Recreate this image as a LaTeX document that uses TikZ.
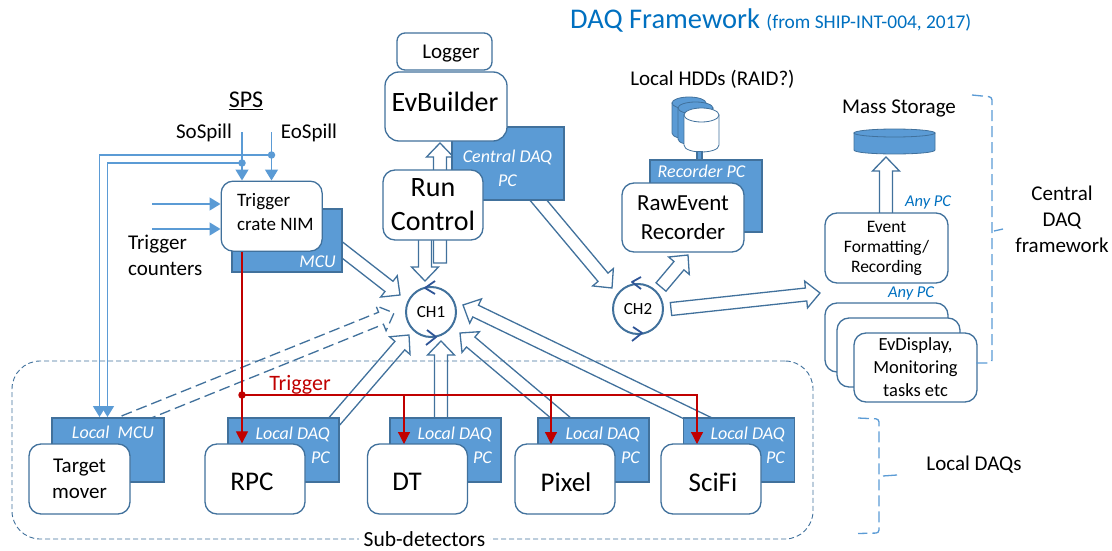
\documentclass[tikz,border=0pt]{standalone}
\usepackage{fontspec}
\setmainfont{Carlito}
\usetikzlibrary{calc,arrows.meta,backgrounds}
\definecolor{edgeblue}{HTML}{41719C}
\definecolor{fillblue}{HTML}{5B9BD5}
\definecolor{titleblue}{HTML}{0070C0}
\definecolor{chevblue}{HTML}{2F5597}
\definecolor{trigred}{HTML}{C00000}
\newcommand{\fs}[2]{\fontsize{#1}{#2}\selectfont}
\newcommand{\flowarrow}[3][]{%
  \coordinate (ta) at #2;
  \coordinate (tb) at #3;
  \draw[flowedge,#1] ($(ta)!6.5pt!90:(tb)$) -- ($(tb)!14pt!(ta)!6.5pt!90:(tb)$) -- ($(tb)!14pt!(ta)!13.5pt!90:(tb)$) -- (tb)
    -- ($(tb)!14pt!(ta)!13.5pt!-90:(tb)$) -- ($(tb)!14pt!(ta)!6.5pt!-90:(tb)$) -- ($(ta)!6.5pt!-90:(tb)$) -- cycle;
}
\newcommand{\drum}[6]{%
  \draw[#1] (#2,#4) -- (#2,#5) .. controls (#2,#5+#6*1.33) and (#3,#5+#6*1.33) .. (#3,#5) -- (#3,#4) -- cycle;
  \draw[#1] ({(#2+#3)/2},#4) ellipse[x radius={(#3-#2)/2*1pt},y radius=#6*1pt];
}
\tikzset{
  pcbox/.style={draw=edgeblue, line width=1.3pt, fill=fillblue, inner sep=0pt},
  roundbox/.style={draw=edgeblue, line width=1.3pt, fill=white, rounded corners=12pt, inner sep=0pt, align=center},
  detbox/.style={roundbox, minimum width=100pt, minimum height=70pt, font=\fs{27}{30}},
  pctext/.style={text=white, inner sep=0pt, align=center, font=\fs{18}{24}\itshape},
  anypc/.style={text=titleblue, inner sep=0pt, font=\fs{16.5}{18}\itshape},
  plain/.style={inner sep=0pt, align=center, font=\fs{21}{26}},
  flowedge/.style={draw=edgeblue, line width=1.3pt, fill=white, line join=miter},
  chevron/.style={draw=chevblue, line width=1.8pt, line join=round},
  sigline/.style={draw=fillblue, line width=1.5pt, -{Triangle[length=11pt,width=13pt]}},
  redline/.style={draw=trigred, line width=1.2pt},
  redarrow/.style={redline, -{Triangle[length=12pt,width=12pt]}},
  dot/.style={circle, fill=#1, inner sep=0pt, minimum size=7.5pt},
  ring/.style={circle, draw=edgeblue, line width=2pt, fill=white, minimum size=50pt, inner sep=0pt, font=\fs{17}{20}},
  bracket/.style={draw=fillblue, line width=1.3pt, rounded corners=3pt, dash pattern=on 11pt off 5pt},
  drumblue/.style={draw=edgeblue, line width=0.8pt, fill=fillblue},
  drumwhite/.style={draw=edgeblue, line width=0.8pt, fill=white},
}
\begin{document}
\begin{tikzpicture}[x=1pt,y=-1pt]
  \useasboundingbox (0,0) rectangle (1112,551);
  \node[anchor=west, inner sep=0pt, text=titleblue] (title) at (570,20) {\fs{28.5}{30}DAQ Framework \fs{19.4}{30}(from SHIP-INT-004, 2017)};

  \node[draw=edgeblue, line width=0.9pt, dash pattern=on 5pt off 3pt, rounded corners=28pt, minimum width=801pt, minimum height=178pt] (subdet) at (412.5,450) {};
  \node[plain, fill=white, inner xsep=5pt, font=\fs{21.5}{26}] (subdettext) at (424.5,539.5) {Sub-detectors};

  \node[pcbox, minimum width=110pt, minimum height=63pt] (mcu)      at (287,240.5) {};
  \node[roundbox, anchor=north west, minimum width=101pt, minimum height=70pt] (trigger) at (220.5,180.5) {};
  \node[anchor=west, inner sep=0pt, align=left, font=\fs{19}{24}] (triggertext) at (237,212) {Trigger\\crate NIM};
  \node[pctext, anchor=east] (mcutext) at (336,262) {MCU};

  \node[pcbox, minimum width=112pt, minimum height=73pt] (centralpc) at (508,163.5) {};
  \node[pctext] (centraltext) at (507.5,168) {Central DAQ\\PC};
  \node[roundbox, minimum width=95pt, minimum height=37pt, rounded corners=8pt] (logger) at (444.5,51.5) {};
  \node[plain] (loggertext) at (451,54) {Logger};
  \node[roundbox, minimum width=122pt, minimum height=69pt, rounded corners=14pt, font=\fs{28}{34}] (evbuilder) at (446,106.5) {};
  \node[inner sep=0pt, font=\fs{28}{34}] (evbuildertext) at (445,102) {EvBuilder};
  \node[roundbox, minimum width=100pt, minimum height=70pt, font=\fs{28}{34}] (runcontrol) at (433,205) {Run\\Control};

  \node[ring] (ch1) at (431,312) {CH1};
  \node[ring] (ch2) at (638,309) {CH2};

  \drum{drumblue}{672}{706}{103}{133}{6}
  \drum{drumblue}{678}{713}{108}{139}{6}
  \drum{drumwhite}{684}{719}{115}{145}{7}
  \node[pcbox, minimum width=5pt, minimum height=9pt] (hddlink) at (699.5,156) {};
  \node[pcbox, minimum width=112pt, minimum height=72pt] (recorderpc) at (706,196) {};
  \node[pctext] (recordertext) at (701.5,171) {Recorder PC};
  \node[roundbox, minimum width=122pt, minimum height=69pt, font=\fs{23}{29}] (recorder) at (683,217.5) {RawEvent\\Recorder};
  \node[plain] (hddtext) at (712.5,79) {Local HDDs (RAID?)};

  \node[plain] (storagetext) at (899,108.5) {Mass Storage};
  \drum{drumblue}{854}{935}{133}{150}{4}
  \node[roundbox, minimum width=123pt, minimum height=70pt, font=\fs{17.5}{20}] (event) at (886.5,248) {Event\\Formatting/\\Recording};
  \node[roundbox, minimum width=123pt, minimum height=69pt] (taska) at (886.5,337.5) {};
  \node[roundbox, minimum width=123pt, minimum height=69pt] (taskb) at (898.5,352.5) {};
  \node[roundbox, minimum width=123pt, minimum height=69pt, font=\fs{18.5}{23}] (taskc) at (915.5,367.5) {EvDisplay,\\Monitoring\\tasks etc};
  \node[anypc] (anypca) at (928,202) {Any PC};
  \node[anypc] (anypcb) at (911,293) {Any PC};

  \node[pcbox, minimum width=112pt, minimum height=64pt] (moverpc) at (108,450) {};
  \node[roundbox, minimum width=101pt, minimum height=70pt, font=\fs{21}{26}] (mover) at (79.5,479) {Target\\mover};
  \node[pctext] (movertext) at (113,432) {Local\ \ MCU};

  \node[pcbox, minimum width=111pt, minimum height=64pt] (rpcpc) at (283.5,450) {};
  \node[detbox] (rpc) at (255,479) {};
  \node[inner sep=0pt, font=\fs{27}{30}] (rpctext) at (252,482) {RPC};
  \node[pctext, align=right, anchor=east] (rpcpctext) at (330,445) {Local DAQ\\PC};

  \node[pcbox, minimum width=111pt, minimum height=64pt] (dtpc) at (445.5,450) {};
  \node[detbox] (dt) at (417.5,479) {};
  \node[inner sep=0pt, font=\fs{27}{30}] (dttext) at (407,482) {DT};
  \node[pctext, align=right, anchor=east] (dtpctext) at (492,445) {Local DAQ\\PC};

  \node[pcbox, minimum width=111pt, minimum height=64pt] (pixelpc) at (593.5,450) {};
  \node[detbox] (pixel) at (565,479) {};
  \node[inner sep=0pt, font=\fs{27}{30}] (pixeltext) at (566,482) {Pixel};
  \node[pctext, align=right, anchor=east] (pixelpctext) at (640,445) {Local DAQ\\PC};

  \node[pcbox, minimum width=111pt, minimum height=64pt] (scifipc) at (739,450) {};
  \node[detbox] (scifi) at (711,479) {};
  \node[inner sep=0pt, font=\fs{27}{30}] (scifitext) at (713,482) {SciFi};
  \node[pctext, align=right, anchor=east] (scifipctext) at (785,445) {Local DAQ\\PC};

  \node[plain, align=left, anchor=west] (counters) at (128,255.5) {Trigger\\counters};
  \node[plain, font=\fs{24}{26}] (spstext) at (246,101) {\underline{SPS}};
  \node[plain, font=\fs{21}{24}] (sotext) at (204,132.5) {SoSpill};
  \node[plain, font=\fs{21}{24}] (eotext) at (309,132.5) {EoSpill};
  \node[plain] (centraldaq) at (1062,219.5) {Central\\DAQ\\framework};
  \node[plain] (localdaqs) at (974,464.5) {Local DAQs};
  \node[inner sep=0pt, text=trigred, font=\fs{22}{24}] (triggerlabel) at (300,384.5) {Trigger};

  \begin{scope}[on background layer]
    \flowarrow{(332,242)}{($(ch1)+(-31,-17)$)}
    \flowarrow[dash pattern=on 11pt off 5pt]{(124,422)}{($(ch1)+(-37,1)$)}
    \flowarrow{(326,431)}{($(ch1)+(-22,23)$)}
    \flowarrow{(441,430)}{($(ch1)+(10,29)$)}
    \flowarrow{(581,435)}{($(ch1)+(29,21)$)}
    \flowarrow{(720,429)}{($(ch1)+(32,-7)$)}
    \flowarrow{(425,225)}{($(ch1)+(-6,-31)$)}
    \flowarrow{(440,263)}{(440,143)}
    \flowarrow{(529,189)}{($(ch2)+(-26,-21)$)}
    \flowarrow{(886,225)}{(886,157)}
  \end{scope}
  \flowarrow{($(ch2)+(23,-22)$)}{(688,255)}
  \flowarrow{($(ch2)+(33,0)$)}{(820,293)}

  \draw[chevron] ($(ch1)+(4,-31)$) -- ($(ch1)+(-6,-24)$) -- ($(ch1)+(4,-18)$);
  \draw[chevron] ($(ch1)+(-4,18)$) -- ($(ch1)+(5,25)$) -- ($(ch1)+(-5,33)$);
  \draw[chevron] ($(ch2)+(3,-32)$) -- ($(ch2)+(-6,-27)$) -- ($(ch2)+(3,-20)$);
  \draw[chevron] ($(ch2)+(-5,18)$) -- ($(ch2)+(4,24)$) -- ($(ch2)+(-6,32)$);

  \node[dot=fillblue] (eodot) at (271.5,155) {};
  \node[dot=fillblue] (sodot) at (242,163) {};
  \coordinate (eostart)   at (271.5,132);
  \coordinate (sostart)   at (242,132);
  \coordinate (moverina)  at (99.5,417);
  \coordinate (moverinb)  at (107.5,417);
  \coordinate (countera)  at (152,204);
  \coordinate (counterb)  at (152,229);
  \draw[sigline] (sostart) -- (sostart |- trigger.north);
  \draw[sigline] (eostart) -- (eostart |- trigger.north);
  \draw[sigline] (eodot.center) -| (moverina);
  \draw[sigline] (sodot.center) -| (moverinb);
  \draw[sigline] (countera) -- (countera -| trigger.west);
  \draw[sigline] (counterb) -- (counterb -| trigger.west);

  \node[dot=trigred] (reddot) at (242,395) {};
  \coordinate (dtin)    at (404,444);
  \coordinate (pixelin) at (551,444);
  \coordinate (scifiin) at (697,444);
  \draw[redarrow] (reddot |- trigger.south) -- (reddot |- rpc.north);
  \draw[redarrow] (reddot.center) -| (scifiin);
  \draw[redarrow] (dtin |- reddot) -- (dtin);
  \draw[redarrow] (pixelin |- reddot) -- (pixelin);

  \draw[bracket] (972,95) -- (992,97) -- (992,363) -- (972,363);
  \draw[bracket, solid] (994,231) -- (1003,229);
  \draw[bracket] (858,418) -- (879,419) -- (879,533) -- (858,533.5);
  \draw[bracket, solid] (883,476) -- (897,475);
\end{tikzpicture}
\end{document}
